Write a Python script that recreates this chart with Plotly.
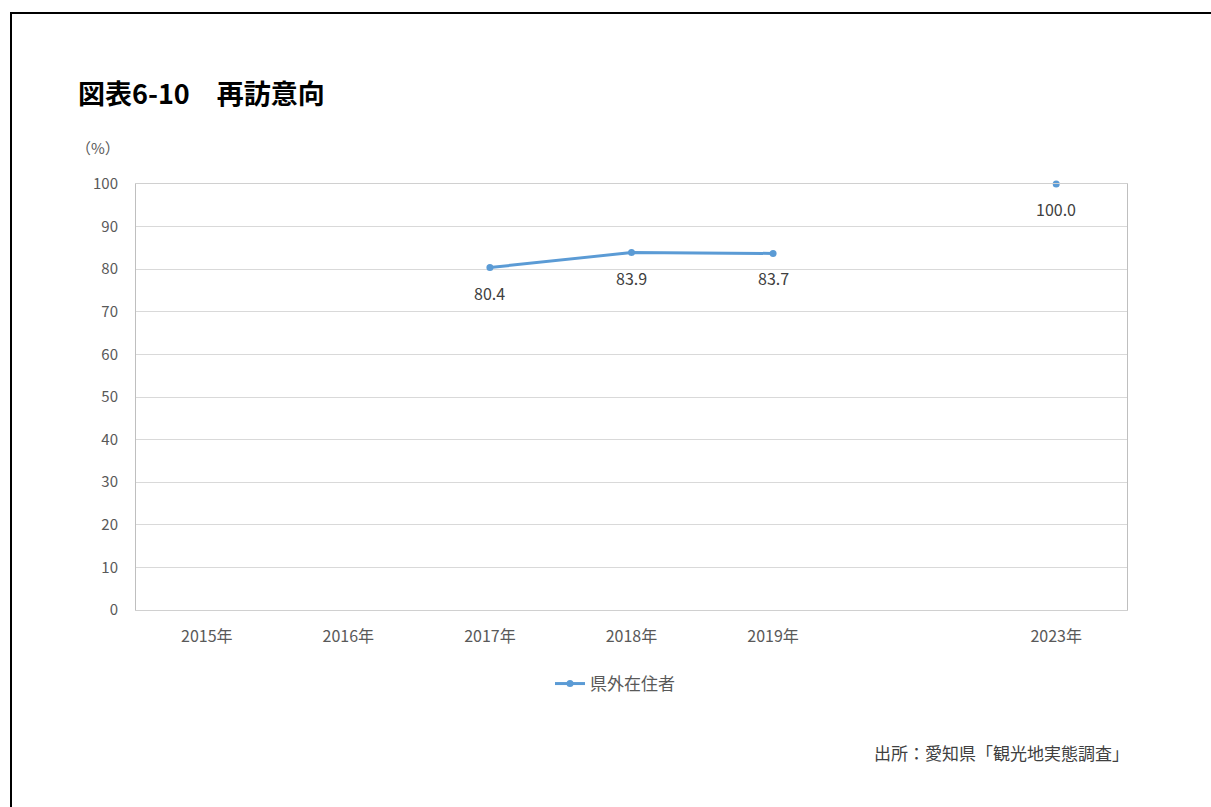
import plotly.graph_objects as go

# Survey years (the blank slot stands for the years without a survey)
years = ["2015年", "2016年", "2017年", "2018年", "2019年", " ", "2023年"]
revisit_pct = [None, None, 80.4, 83.9, 83.7, None, 100.0]
y_ticks = [0, 10, 20, 30, 40, 50, 60, 70, 80, 90, 100]

series_name = "県外在住者"
title_text = "<b>図表6-10　再訪意向</b>"
unit_text = "（%）"
source_text = "出所：愛知県「観光地実態調査」"

FONT = "Noto Sans CJK JP, Noto Sans, sans-serif"
BLUE = "#5B9BD5"
TEXT = "#595959"

W, H = 1211, 807
L, R, T, B = 136, 84, 184, 197
pw, ph = W - L - R, H - T - B


def px_x(x):
    return (x - L) / pw


def px_y(y):
    return (H - B - y) / ph


fig = go.Figure()
fig.add_trace(go.Scatter(
    x=years, y=revisit_pct, name=series_name,
    mode="lines+markers",
    line=dict(color=BLUE, width=3),
    marker=dict(color=BLUE, size=7),
    connectgaps=False,
    cliponaxis=False,
))

# value labels under each surveyed point
value_annotations = [
    dict(x=yr, y=v, xref="x", yref="y", text=f"{v:.1f}", showarrow=False,
         yshift=-25, xanchor="center", yanchor="middle",
         font=dict(size=16, color="#404040", family=FONT))
    for yr, v in zip(years, revisit_pct) if v is not None
]

fig.update_layout(
    width=W, height=H,
    margin=dict(l=L, r=R, t=T, b=B),
    paper_bgcolor="white", plot_bgcolor="white",
    font=dict(family=FONT, color=TEXT, size=15),
    showlegend=True,
    legend=dict(orientation="h", x=px_x(615), xanchor="center",
                y=px_y(684), yanchor="middle",
                font=dict(size=17, color=TEXT, family=FONT)),
    xaxis=dict(type="category", categoryorder="array", categoryarray=years,
               range=[-0.5, len(years) - 0.5],
               showgrid=False, showline=True, linecolor="#D0D0D0", linewidth=1,
               mirror=True, ticks="", tickfont=dict(size=16, color=TEXT),
               ticklabelstandoff=12),
    yaxis=dict(range=[0, 100], tickvals=y_ticks, showgrid=True,
               gridcolor="#D9D9D9", gridwidth=1, showline=True,
               linecolor="#BFBFBF", linewidth=1, mirror=True, zeroline=False,
               ticks="", tickfont=dict(size=15, color=TEXT),
               ticklabelstandoff=14),
    shapes=[dict(type="path", xref="paper", yref="paper",
                 path=f"M {px_x(11)} {px_y(H + 5)} L {px_x(11)} {px_y(13)} L {px_x(W + 5)} {px_y(13)}",
                 line=dict(color="black", width=2))],
    annotations=value_annotations + [
        dict(text=title_text, xref="paper", yref="paper", x=px_x(76), y=px_y(92),
             xanchor="left", yanchor="middle", showarrow=False,
             font=dict(size=27, color="black", family=FONT)),
        dict(text=unit_text, xref="paper", yref="paper", x=px_x(98), y=px_y(148),
             xanchor="center", yanchor="middle", showarrow=False,
             font=dict(size=15, color=TEXT, family=FONT)),
        dict(text=source_text, xref="paper", yref="paper", x=px_x(1131), y=px_y(752),
             xanchor="right", yanchor="middle", showarrow=False,
             font=dict(size=17, color="#404040", family=FONT)),
    ],
)

fig.write_html("out.html")
